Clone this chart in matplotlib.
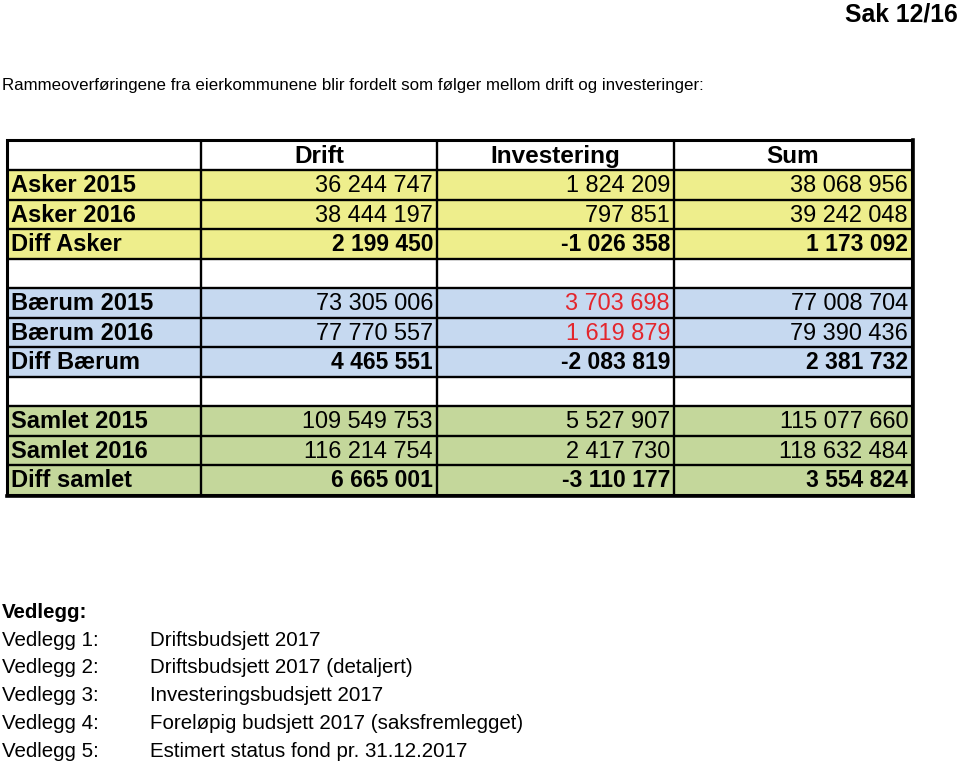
"""Rammeoverføringer fra eierkommunene: drift og investering."""

import matplotlib.pyplot as plt
from matplotlib.patches import Rectangle

HEADERS = ["Drift", "Investering", "Sum"]
ROW_LABELS = [
    "Asker 2015", "Asker 2016", "Diff Asker", "",
    "Bærum 2015", "Bærum 2016", "Diff Bærum", "",
    "Samlet 2015", "Samlet 2016", "Diff samlet",
]
DRIFT = [36244747, 38444197, 2199450, None,
         73305006, 77770557, 4465551, None,
         109549753, 116214754, 6665001]
INVESTERING = [1824209, 797851, -1026358, None,
               3703698, 1619879, -2083819, None,
               5527907, 2417730, -3110177]
SUM = [38068956, 39242048, 1173092, None,
       77008704, 79390436, 2381732, None,
       115077660, 118632484, 3554824]
ROW_GROUP = ["asker"] * 3 + [None] + ["baerum"] * 3 + [None] + ["samlet"] * 3
BOLD_ROWS = [2, 6, 10]
RED_INVEST_ROWS = [4, 5]

VEDLEGG_NR = ["Vedlegg 1:", "Vedlegg 2:", "Vedlegg 3:", "Vedlegg 4:", "Vedlegg 5:"]
VEDLEGG_TEKST = [
    "Driftsbudsjett 2017",
    "Driftsbudsjett 2017 (detaljert)",
    "Investeringsbudsjett 2017",
    "Foreløpig budsjett 2017 (saksfremlegget)",
    "Estimert status fond pr. 31.12.2017",
]

GROUP_COLORS = {"asker": "#eeee8c", "baerum": "#c6d9f0", "samlet": "#c4d79b", None: "white"}
RED = "#e3262d"
FONT = ["Liberation Sans", "DejaVu Sans"]

# table geometry in pixels
COL_EDGES = [7, 201, 437, 674, 912]
TOP = 140
HEADER_H = 30
ROW_H = 29.5


def fmt(value):
    return f"{value:,}".replace(",", " ")


fig = plt.figure(figsize=(9.6, 7.65), dpi=100)
ax = fig.add_axes([0, 0, 1, 1])
ax.set_xlim(0, 960)
ax.set_ylim(765, 0)
ax.axis("off")

ax.text(958, 14, "Sak 12/16", ha="right", va="center", fontsize=17.8,
        fontweight="bold", family=FONT)
ax.text(2, 85, "Rammeoverføringene fra eierkommunene blir fordelt som følger mellom drift og investeringer:",
        ha="left", va="center", fontsize=12.2, family=FONT)

# header row
row_tops = [TOP + HEADER_H + i * ROW_H for i in range(len(ROW_LABELS))]
bottom = row_tops[-1] + ROW_H
ax.add_patch(Rectangle((COL_EDGES[0], TOP), COL_EDGES[-1] - COL_EDGES[0], HEADER_H,
                       facecolor="white", edgecolor="none"))
for j, header in enumerate(HEADERS):
    xc = (COL_EDGES[j + 1] + COL_EDGES[j + 2]) / 2
    ax.text(xc, TOP + HEADER_H / 2 + 1, header, ha="center", va="center",
            fontsize=17.5, fontweight="bold", family=FONT)

columns = [DRIFT, INVESTERING, SUM]
for i, label in enumerate(ROW_LABELS):
    y0 = row_tops[i]
    yc = y0 + ROW_H / 2 + 1
    ax.add_patch(Rectangle((COL_EDGES[0], y0), COL_EDGES[-1] - COL_EDGES[0], ROW_H,
                           facecolor=GROUP_COLORS[ROW_GROUP[i]], edgecolor="none"))
    ax.text(COL_EDGES[0] + 4, yc, label, ha="left", va="center",
            fontsize=17, fontweight="bold", family=FONT)
    for j, col in enumerate(columns):
        value = col[i]
        if value is None:
            continue
        color = RED if (j == 1 and i in RED_INVEST_ROWS) else "black"
        bold = i in BOLD_ROWS
        ax.text(COL_EDGES[j + 2] - 4, yc, fmt(value), ha="right", va="center",
                fontsize=16.5 if bold else 16.9, fontweight="bold" if bold else "normal",
                color=color, family=FONT)

# grid lines
for y in [TOP + HEADER_H] + row_tops[1:]:
    ax.plot([COL_EDGES[0], COL_EDGES[-1]], [y, y], color="black", lw=1.7,
            solid_capstyle="butt")
for x in COL_EDGES[1:-1]:
    ax.plot([x, x], [TOP, bottom], color="black", lw=1.7, solid_capstyle="butt")
ax.add_patch(Rectangle((COL_EDGES[0], TOP), COL_EDGES[-1] - COL_EDGES[0], bottom - TOP,
                       facecolor="none", edgecolor="black", lw=2.2))
# heavier right and bottom edges
ax.plot([COL_EDGES[-1] + 1, COL_EDGES[-1] + 1], [TOP, bottom + 1], color="black", lw=2.6)
ax.plot([COL_EDGES[0], COL_EDGES[-1] + 1], [bottom + 1, bottom + 1], color="black", lw=2.6)

# attachments
ax.text(2, 613, "Vedlegg:", ha="left", va="center", fontsize=14.8,
        fontweight="bold", family=FONT)
for k, (nr, tekst) in enumerate(zip(VEDLEGG_NR, VEDLEGG_TEKST)):
    y = 640 + k * 27.8
    ax.text(2, y, nr, ha="left", va="center", fontsize=14.8, family=FONT)
    ax.text(150, y, tekst, ha="left", va="center", fontsize=14.8, family=FONT)

fig.savefig("out.png", dpi=100)
